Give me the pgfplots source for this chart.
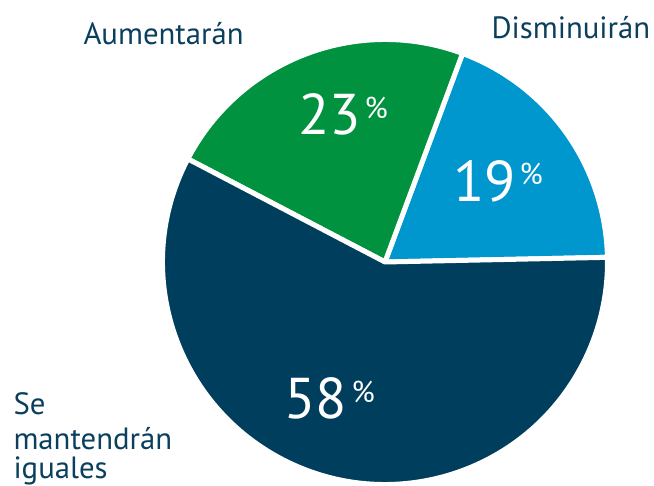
\documentclass[border=0pt]{standalone}
\usepackage{fontspec}
\setmainfont{PT Sans}
\usepackage{pgfplots}
\usepackage{pgfplotstable}
\pgfplotsset{compat=1.18}
\definecolor{cnavy}{HTML}{003E5E}
\definecolor{cgreen}{HTML}{00923F}
\definecolor{cblue}{HTML}{0096CE}
\definecolor{ctext}{HTML}{0B3F5E}
\pgfplotstableread{
label value
Disminuiran 19
Aumentaran 23
Mantendran 58
}\piedata
\pgfplotstablegetelem{0}{value}\of\piedata \let\va\pgfplotsretval
\pgfplotstablegetelem{1}{value}\of\piedata \let\vb\pgfplotsretval
\pgfplotstablegetelem{2}{value}\of\piedata \let\vc\pgfplotsretval
\pgfmathsetmacro\aS{1.2}
\pgfmathsetmacro\aA{\aS+3.6*\va}
\pgfmathsetmacro\aB{\aA+3.6*\vb}
\pgfmathsetmacro\aC{\aB+3.6*\vc}
\begin{document}
\begin{tikzpicture}
\begin{axis}[x=0.4pt,y=0.4pt,xmin=0,xmax=654,ymin=0,ymax=486,
  hide axis, clip=false, scale only axis]
\coordinate (BL) at (axis cs:0,0);
\coordinate (TR) at (axis cs:654,486);
\fill[cblue, draw=white, line width=2pt, line join=round] (axis cs:385,224) -- ++(\aS:89pt) arc[start angle=\aS, end angle=\aA, radius=89pt] -- cycle;
\fill[cgreen, draw=white, line width=2pt, line join=round] (axis cs:385,224) -- ++(\aA:89pt) arc[start angle=\aA, end angle=\aB, radius=89pt] -- cycle;
\fill[cnavy, draw=white, line width=2pt, line join=round] (axis cs:385,224) -- ++(\aB:89pt) arc[start angle=\aB, end angle=\aC, radius=89pt] -- cycle;
% percentages
\node[anchor=base west, inner sep=0, text=white, font=\fontsize{23}{24}\selectfont] at (axis cs:298,351) {\vb};
\node[anchor=base west, inner sep=0, text=white, font=\fontsize{12}{12}\selectfont] at (axis cs:364,367) {\%};
\node[anchor=base west, inner sep=0, text=white, font=\fontsize{23}{24}\selectfont] at (axis cs:453,284) {\va};
\node[anchor=base west, inner sep=0, text=white, font=\fontsize{23}{24}\selectfont] at (axis cs:284,67) {\vc};
\node[anchor=base west, inner sep=0, text=white, font=\fontsize{12}{12}\selectfont] at (axis cs:519,301) {\%};
\node[anchor=base west, inner sep=0, text=white, font=\fontsize{12}{12}\selectfont] at (axis cs:351,83) {\%};
% labels
\node[anchor=base west, inner sep=0, text=ctext, font=\fontsize{12.3}{13}\selectfont] at (axis cs:83,441) {Aumentarán};
\node[anchor=base west, inner sep=0, text=ctext, font=\fontsize{12.3}{13}\selectfont] at (axis cs:491,447) {Disminuirán};
\node[anchor=base west, inner sep=0, text=ctext, font=\fontsize{12.3}{13}\selectfont] at (axis cs:13,71) {Se};
\node[anchor=base west, inner sep=0, text=ctext, font=\fontsize{12.3}{13}\selectfont] at (axis cs:13,36) {mantendrán};
\node[anchor=base west, inner sep=0, text=ctext, font=\fontsize{12.3}{13}\selectfont] at (axis cs:13,7) {iguales};
\end{axis}
\pgfresetboundingbox
\path (BL) rectangle (TR);
\end{tikzpicture}
\end{document}
